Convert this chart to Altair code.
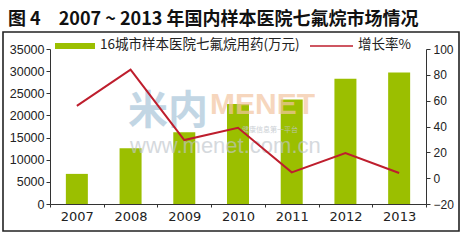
import altair as alt
import pandas as pd

years = ["2007", "2008", "2009", "2010", "2011", "2012", "2013"]
sales = [6800, 12600, 16200, 22600, 23600, 28300, 29700]
growth = [56, 84, 29.5, 39, 4.5, 19.5, 4]
left_ticks = [0, 5000, 10000, 15000, 20000, 25000, 30000, 35000]
right_ticks = [-20, 0, 20, 40, 60, 80, 100]

title_text = "图 4\u30002007 ~ 2013 年国内样本医院七氟烷市场情况"
bar_label = "16城市样本医院七氟烷用药(万元)"
line_label = "增长率%"

GREEN = "#9bbf00"
RED = "#be1e2d"
CJK = "Noto Sans CJK SC"
LAT = "Liberation Sans"

df = pd.DataFrame({"year": years, "sales": sales, "growth": growth})
one = pd.DataFrame({"k": [0]})

xenc = alt.X(
    "year:N",
    sort=years,
    scale=alt.Scale(paddingInner=0, paddingOuter=0),
    axis=alt.Axis(
        title=None, labelAngle=0, tickBand="extent", tickSize=3,
        labelFont="DejaVu Sans", labelFontSize=13, labelColor="#222",
        labelPadding=3, domainColor="#333", tickColor="#333", grid=False,
    ),
)

bars = alt.Chart(df).mark_bar(color=GREEN, size=22).encode(
    x=xenc,
    y=alt.Y(
        "sales:Q",
        scale=alt.Scale(domain=[0, 35000], nice=False),
        axis=alt.Axis(
            title=None, values=left_ticks, format="d", grid=False,
            labelFont=LAT, labelFontSize=12.5, labelColor="#222",
            tickSize=4, labelPadding=2, domainColor="#333", tickColor="#333",
        ),
    ),
)

line = alt.Chart(df).mark_line(color=RED, strokeWidth=2).encode(
    x=alt.X("year:N", sort=years),
    y=alt.Y(
        "growth:Q",
        scale=alt.Scale(domain=[-20, 100], nice=False),
        axis=alt.Axis(
            title=None, orient="right", values=right_ticks, grid=False,
            labelFont=LAT, labelFontSize=12, labelColor="#222",
            tickSize=4, labelPadding=3, domainColor="#333", tickColor="#333",
        ),
    ),
)

frame = alt.Chart(one).mark_rect(fillOpacity=0, stroke="#222", strokeWidth=1.6).encode(
    x=alt.value(-47), x2=alt.value(409), y=alt.value(-17), y2=alt.value(182)
)

title = alt.Chart(one).mark_text(
    text=title_text, font=CJK, fontSize=18, fontWeight="bold", color="#111",
    align="left", baseline="middle",
).encode(x=alt.value(-42), y=alt.value(-29))

wm1 = alt.Chart(one).mark_text(
    text="米内", font=CJK, fontSize=40, fontWeight="bold", color="#a9c6da",
    opacity=0.7, align="left", baseline="middle",
).encode(x=alt.value(78), y=alt.value(63))
wm2 = alt.Chart(one).mark_text(
    text="MENET", font=LAT, fontSize=30, fontWeight="bold", color="#f3c6a2",
    opacity=0.7, align="left", baseline="middle",
).encode(x=alt.value(160), y=alt.value(56))
wm3 = alt.Chart(one).mark_text(
    text="健康信息第一平台", font=CJK, fontSize=7, color="#c0c6cc",
    opacity=0.8, align="left", baseline="middle",
).encode(x=alt.value(192), y=alt.value(81))
wm4 = alt.Chart(one).mark_text(
    text="www.menet.com.cn", font=LAT, fontSize=22, color="#bfc6cc",
    opacity=0.65, align="left", baseline="middle",
).encode(x=alt.value(80), y=alt.value(97))

leg_rect = alt.Chart(one).mark_rect(color=GREEN).encode(
    x=alt.value(5), x2=alt.value(45), y=alt.value(-6), y2=alt.value(0)
)
leg_t1 = alt.Chart(one).mark_text(
    text=bar_label, font=CJK, fontSize=13.5, color="#222",
    align="left", baseline="middle",
).encode(x=alt.value(50), y=alt.value(-4))
leg_line = alt.Chart(one).mark_rule(color=RED, strokeWidth=1.5).encode(
    x=alt.value(260), x2=alt.value(303), y=alt.value(-3)
)
leg_t2 = alt.Chart(one).mark_text(
    text=line_label, font=CJK, fontSize=13.5, color="#222",
    align="left", baseline="middle",
).encode(x=alt.value(308), y=alt.value(-4))

chart = (
    alt.layer(frame, bars, wm1, wm2, wm3, wm4, line, leg_rect, leg_t1, leg_line, leg_t2, title)
    .resolve_scale(y="independent")
    .properties(
        width=376, height=155,
        autosize=alt.AutoSizeParams(type="none"),
        padding={"left": 50, "top": 49, "right": 36, "bottom": 36},
        background="white",
    )
    .configure_view(stroke=None)
)

chart.save("out.html", embed_options={"renderer": "svg", "actions": False})
